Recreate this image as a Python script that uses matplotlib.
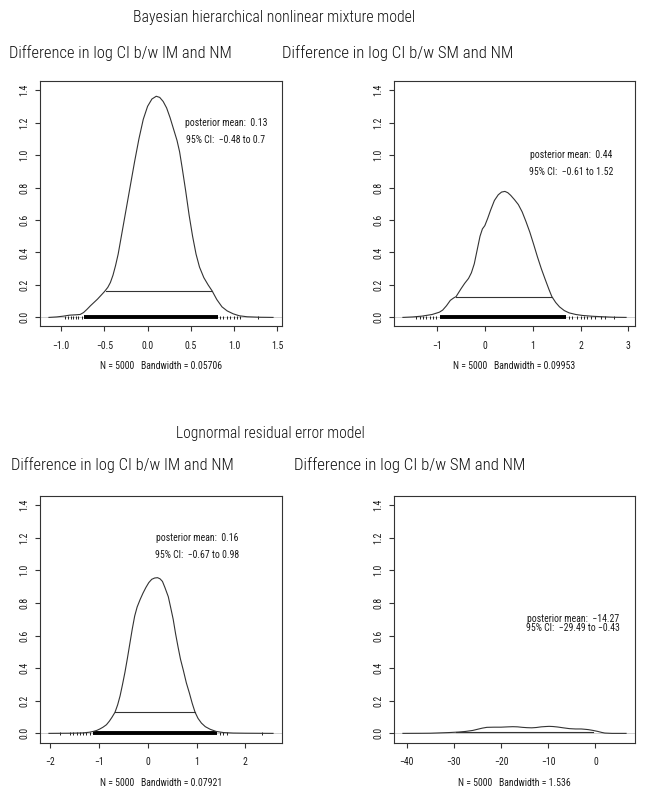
import matplotlib
matplotlib.use("Agg")
import matplotlib.pyplot as plt
from matplotlib import font_manager
from matplotlib.font_manager import FontProperties

W, H, DPI = 645, 794, 100

# ---- data ------------------------------------------------------------------
# top-left: mixture model, IM vs NM
im_mix_x = [-1.14, -1.05, -0.97, -0.90, -0.83, -0.78, -0.74, -0.70, -0.66, -0.62,
            -0.58, -0.54, -0.50, -0.46, -0.43, -0.40, -0.37, -0.34, -0.30, -0.25,
            -0.20, -0.15, -0.10, -0.05, 0.00, 0.05, 0.10, 0.14, 0.18, 0.22,
            0.26, 0.30, 0.34, 0.37, 0.40, 0.44, 0.48, 0.52, 0.56, 0.60,
            0.65, 0.70, 0.745, 0.80, 0.86, 0.92, 0.99, 1.06, 1.15, 1.30, 1.45]
im_mix_y = [0.0, 0.003, 0.008, 0.014, 0.016, 0.018, 0.03, 0.05, 0.072, 0.092,
            0.112, 0.135, 0.158, 0.185, 0.215, 0.26, 0.32, 0.39, 0.51, 0.66,
            0.81, 0.96, 1.10, 1.22, 1.30, 1.345, 1.362, 1.355, 1.33, 1.29,
            1.23, 1.16, 1.09, 1.02, 0.92, 0.78, 0.63, 0.50, 0.39, 0.31,
            0.245, 0.20, 0.164, 0.11, 0.065, 0.04, 0.022, 0.01, 0.004, 0.001, 0.0]
im_mix_ci = (-0.48, 0.745, 0.164)
im_mix_rug = (-0.73, 0.81)
im_mix_rug_ticks = [-0.954, -0.915, -0.888, -0.858, -0.826, -0.80, -0.76,
                    0.84, 0.872, 0.918, 0.956, 0.994, 1.034, 1.072, 1.272]
im_mix_text = ("posterior mean:  0.13", "95% CI:  \u22120.48 to 0.7")
im_mix_text_xy = (0.906, 1.20, 1.09)
im_mix_bw = "N = 5000   Bandwidth = 0.05706"
im_mix_xticks = [-1.0, -0.5, 0.0, 0.5, 1.0, 1.5]

# top-right: mixture model, SM vs NM
sm_mix_x = [-1.71, -1.50, -1.31, -1.10, -0.95, -0.88, -0.80, -0.72, -0.65, -0.60,
            -0.50, -0.42, -0.34, -0.28, -0.22, -0.16, -0.10, -0.05, 0.00, 0.06,
            0.12, 0.20, 0.28, 0.35, 0.42, 0.48, 0.54, 0.62, 0.70, 0.78,
            0.86, 0.94, 1.02, 1.10, 1.18, 1.26, 1.34, 1.40, 1.48, 1.56,
            1.66, 1.76, 1.90, 2.04, 2.25, 2.46, 2.70, 2.95]
sm_mix_y = [0.0, 0.003, 0.008, 0.018, 0.032, 0.045, 0.072, 0.105, 0.12, 0.128,
            0.175, 0.21, 0.24, 0.275, 0.33, 0.415, 0.50, 0.545, 0.565, 0.61,
            0.66, 0.72, 0.755, 0.772, 0.776, 0.768, 0.752, 0.725, 0.695, 0.65,
            0.59, 0.525, 0.45, 0.372, 0.30, 0.235, 0.172, 0.128, 0.092, 0.065,
            0.042, 0.028, 0.018, 0.012, 0.007, 0.004, 0.001, 0.0]
sm_mix_ci = (-0.60, 1.40, 0.128)
sm_mix_rug = (-0.94, 1.69)
sm_mix_rug_ticks = [-1.43, -1.36, -1.29, -1.22, -1.15, -1.08, -1.01,
                    1.75, 1.82, 1.93, 2.0, 2.07, 2.14, 2.21, 2.31, 2.42, 2.52, 2.70]
sm_mix_text = ("posterior mean:  0.44", "95% CI:  \u22120.61 to 1.52")
sm_mix_text_xy = (1.81, 1.00, 0.897)
sm_mix_bw = "N = 5000   Bandwidth = 0.09953"
sm_mix_xticks = [-1, 0, 1, 2, 3]

# bottom-left: lognormal model, IM vs NM
im_log_x = [-2.03, -1.60, -1.33, -1.20, -1.12, -1.05, -0.985, -0.92, -0.85, -0.79,
            -0.74, -0.675, -0.62, -0.57, -0.52, -0.47, -0.42, -0.37, -0.32, -0.27,
            -0.22, -0.16, -0.10, -0.04, 0.02, 0.08, 0.14, 0.20, 0.25, 0.30,
            0.35, 0.42, 0.47, 0.52, 0.57, 0.62, 0.67, 0.73, 0.79, 0.855,
            0.91, 0.97, 1.03, 1.10, 1.18, 1.28, 1.40, 1.55, 1.75, 2.00, 2.57]
im_log_y = [0.0, 0.001, 0.003, 0.007, 0.012, 0.018, 0.027, 0.038, 0.053, 0.075,
            0.097, 0.129, 0.175, 0.23, 0.30, 0.375, 0.46, 0.55, 0.64, 0.72,
            0.775, 0.82, 0.86, 0.895, 0.925, 0.945, 0.953, 0.955, 0.948, 0.932,
            0.895, 0.838, 0.77, 0.70, 0.61, 0.53, 0.455, 0.385, 0.31, 0.245,
            0.185, 0.129, 0.092, 0.063, 0.041, 0.025, 0.012, 0.005, 0.002, 0.001, 0.0]
im_log_ci = (-0.675, 0.97, 0.129)
im_log_rug = (-1.12, 1.42)
im_log_rug_ticks = [-1.81, -1.60, -1.53, -1.46, -1.40, -1.33, -1.26, -1.19,
                    1.49, 1.55, 1.62, 2.34]
im_log_text = ("posterior mean:  0.16", "95% CI:  \u22120.67 to 0.98")
im_log_text_xy = (1.01, 1.196, 1.094)
im_log_bw = "N = 5000   Bandwidth = 0.07921"
im_log_xticks = [-2, -1, 0, 1, 2]

# bottom-right: lognormal model, SM vs NM
sm_log_x = [-40.8, -37.0, -35.0, -33.0, -31.0, -29.0, -27.5, -26.0, -25.0, -24.0,
            -23.0, -21.5, -20.0, -18.5, -17.5, -16.5, -15.5, -14.5, -13.5, -12.5,
            -11.5, -10.5, -9.8, -9.0, -8.0, -6.8, -5.5, -4.2, -3.0, -2.2,
            -1.5, -0.5, 0.5, 1.3, 2.0, 3.5, 6.5]
sm_log_y = [0.0, 0.0005, 0.001, 0.003, 0.005, 0.008, 0.012, 0.018, 0.025, 0.032,
            0.037, 0.038, 0.038, 0.040, 0.041, 0.040, 0.037, 0.035, 0.034, 0.036,
            0.040, 0.042, 0.043, 0.042, 0.039, 0.034, 0.029, 0.027, 0.027, 0.025,
            0.023, 0.018, 0.012, 0.006, 0.002, 0.0, 0.0]
sm_log_ci = (-29.49, -0.43, 0.006)
sm_log_rug = None
sm_log_rug_ticks = []
sm_log_text = ("posterior mean:  \u221214.27", "95% CI:  \u221229.49 to \u22120.43")
sm_log_text_xy = (-4.8, 0.70, 0.644)
sm_log_bw = "N = 5000   Bandwidth = 1.536"
sm_log_xticks = [-40, -30, -20, -10, 0]

y_ticks = [0.0, 0.2, 0.4, 0.6, 0.8, 1.0, 1.2, 1.4]

main_titles = ["Bayesian hierarchical nonlinear mixture model",
               "Lognormal residual error model"]
panel_title_im = "Difference in log CI b/w IM and NM"
panel_title_sm = "Difference in log CI b/w SM and NM"

# ---- layout (pixels, y measured from the top) -------------------------------
LEFT_COL = (40, 282)
RIGHT_COL = (394, 635)
TOP_ROW = (81, 326.5)
BOT_ROW = (496, 742.5)

INK = "#333333"
TXT = "#1a1a1a"


def narrow_font():
    # the reference was squeezed sideways; a condensed face keeps both the
    # widths and the heights of its text
    for name in ["Liberation Sans Narrow", "Arial Narrow", "Nimbus Sans Narrow",
                 "Roboto Condensed", "Open Sans Condensed", "Noto Sans Condensed"]:
        try:
            font_manager.findfont(name, fallback_to_default=False)
            return dict(family=[name, "DejaVu Sans"], stretch="normal"), True
        except Exception:
            pass
    path = font_manager.findfont(FontProperties(family="DejaVu Sans",
                                                stretch="condensed"))
    if "Condensed" in path:
        return dict(family=["DejaVu Sans"], stretch="condensed"), True
    return dict(family=["Liberation Sans", "DejaVu Sans"], stretch="normal"), False


R_FONT, R_NARROW = narrow_font()
TEX_FONT = R_FONT if R_NARROW else dict(family=["Lato", "DejaVu Sans"], stretch="normal")
# without a condensed face, grow the text a bit so its height is closer
GROW = 1.0 if R_NARROW else 1.1

panels = [
    dict(x=im_mix_x, y=im_mix_y, ci=im_mix_ci, rug=im_mix_rug, ticks=im_mix_rug_ticks,
         text=im_mix_text, txy=im_mix_text_xy, bw=im_mix_bw, xt=im_mix_xticks,
         col=LEFT_COL, row=TOP_ROW),
    dict(x=sm_mix_x, y=sm_mix_y, ci=sm_mix_ci, rug=sm_mix_rug, ticks=sm_mix_rug_ticks,
         text=sm_mix_text, txy=sm_mix_text_xy, bw=sm_mix_bw, xt=sm_mix_xticks,
         col=RIGHT_COL, row=TOP_ROW),
    dict(x=im_log_x, y=im_log_y, ci=im_log_ci, rug=im_log_rug, ticks=im_log_rug_ticks,
         text=im_log_text, txy=im_log_text_xy, bw=im_log_bw, xt=im_log_xticks,
         col=LEFT_COL, row=BOT_ROW),
    dict(x=sm_log_x, y=sm_log_y, ci=sm_log_ci, rug=sm_log_rug, ticks=sm_log_rug_ticks,
         text=sm_log_text, txy=sm_log_text_xy, bw=sm_log_bw, xt=sm_log_xticks,
         col=RIGHT_COL, row=BOT_ROW),
]


def rlim(lo, hi):
    # R's default 4% axis extension
    pad = 0.04 * (hi - lo)
    return lo - pad, hi + pad


def fmt_tick(v, ticks):
    if all(float(t).is_integer() for t in ticks):
        s = f"{int(v)}"
    else:
        s = f"{v:.1f}"
    return s.replace("-", "\u2212")


fig = plt.figure(figsize=(W / DPI, H / DPI), dpi=DPI)
fig.patch.set_facecolor("white")
renderer = fig.canvas.get_renderer()

# size the R-style text from the width of the bandwidth line (121 px)
probe = fig.text(0, 0, im_mix_bw, fontsize=10, **R_FONT)
R_SIZE = 10 * 121 / probe.get_window_extent(renderer).width * GROW
probe.remove()

for p in panels:
    x0, x1 = p["col"]
    ytop, ybot = p["row"]
    ax = fig.add_axes([x0 / W, 1 - ybot / H, (x1 - x0) / W, (ybot - ytop) / H])

    ax.axhline(0, color="#bdbdbd", lw=0.5, zorder=1)
    ax.plot(p["x"], p["y"], color=INK, lw=0.8, zorder=3)
    lo, hi, lev = p["ci"]
    ax.plot([lo, hi], [lev, lev], color=INK, lw=0.8, zorder=3)

    if p["rug"] is not None:
        ax.plot(list(p["rug"]), [0, 0], color="black", lw=2.8,
                solid_capstyle="butt", zorder=2)
    if p["ticks"]:
        ax.vlines(p["ticks"], -0.011, 0.011, color="black", lw=0.6, zorder=2)

    ax.set_xlim(*rlim(min(p["x"]), max(p["x"])))
    ax.set_ylim(*rlim(0, 1.4))
    ax.set_xticks(p["xt"])
    ax.set_xticklabels([fmt_tick(v, p["xt"]) for v in p["xt"]])
    ax.set_yticks(y_ticks)
    ax.set_yticklabels([f"{v:.1f}" for v in y_ticks], rotation=90, va="center")

    for s in ax.spines.values():
        s.set_color(INK)
        s.set_linewidth(0.8)
    ax.tick_params(direction="out", length=3.6, width=0.8, color=INK,
                   labelsize=R_SIZE, labelcolor=TXT)
    ax.tick_params(axis="x", pad=7)
    ax.tick_params(axis="y", pad=4)
    for lab in ax.get_xticklabels() + ax.get_yticklabels():
        lab.set_family(R_FONT["family"])
        lab.set_stretch(R_FONT["stretch"])

    tx, ty1, ty2 = p["txy"]
    ax.text(tx, ty1, p["text"][0], ha="center", va="center", fontsize=R_SIZE,
            color=TXT, **R_FONT)
    ax.text(tx, ty2, p["text"][1], ha="center", va="center", fontsize=R_SIZE,
            color=TXT, **R_FONT)

    ax.text(0.5, -40 / (ybot - ytop), p["bw"], transform=ax.transAxes,
            ha="center", va="center", fontsize=R_SIZE, color=TXT, **R_FONT)


# titles, fitted to the widths measured in the reference
def fitted_text(x_px, y_px, s, width_px, size0=12):
    t = fig.text(x_px / W, 1 - y_px / H, s, ha="left", va="baseline",
                 fontsize=size0, color="#111111", fontweight="light", **TEX_FONT)
    w = t.get_window_extent(renderer).width
    t.set_fontsize(size0 * width_px / w * (1 if R_NARROW else 1.04))
    return t


fitted_text(133, 22, main_titles[0], 280)
fitted_text(176, 438, main_titles[1], 189)
fitted_text(9, 58, panel_title_im, 223)
fitted_text(282, 58, panel_title_sm, 232)
fitted_text(11, 470, panel_title_im, 223)
fitted_text(294, 470, panel_title_sm, 232)

fig.savefig("out.png", dpi=DPI)
